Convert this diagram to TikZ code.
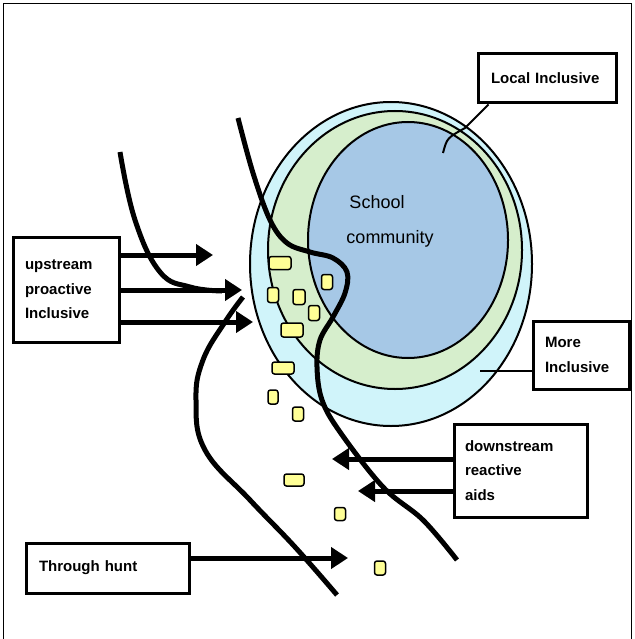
\documentclass[tikz,border=0pt]{standalone}
\usepackage{fontspec}
\setmainfont{Liberation Sans}
\usepackage{tikz}
\usetikzlibrary{positioning,arrows.meta,calc}
\definecolor{outr}{RGB}{208,244,250}
\definecolor{midr}{RGB}{214,238,204}
\definecolor{innr}{RGB}{166,200,230}
\definecolor{blb}{RGB}{255,255,150}

\begin{document}
\begin{tikzpicture}[x=1pt,y=-1pt,font=\fontsize{15}{24.5}\selectfont\bfseries,
  >={Triangle[length=17pt,width=21pt]},
  lbl/.style={draw,line width=3pt,fill=white,align=left,inner ysep=0pt},
  flow/.style={line width=5pt},
  lead/.style={line width=2pt},
  ring/.style={draw,line width=2pt},
  blob/.style={draw,line width=1.5pt,fill=blb,rounded corners=2.5pt,inner sep=0pt}]
  \useasboundingbox (0,0) rectangle (634,639);
  \draw[line width=1pt] (3,642)--(3,4)--(631,4)--(631,642);
  % the three zones round the school
  \draw[ring,fill=outr] (391,264) ellipse [x radius=141pt,y radius=162pt];
  \draw[ring,fill=midr] (395,250) ellipse [x radius=127pt,y radius=139pt];
  \draw[ring,fill=innr] (408,240) ellipse [x radius=100pt,y radius=118pt];
  \node[font=\fontsize{18}{35}\selectfont,align=left] (sc) at (390,221) {\,School\\community};
  % particles
  \foreach \bx/\by/\bw/\bh in {280/263/22/13,273/295/11/15,299/297/12/15,327/282/11/15,
    314/313/11/15,292/330/22/14,283/368/22/12,273/397/10/14,298/414/11/14,
    294/480/20/12,340/514/11/13,380/568/11/14}
    \node[blob,minimum width=\bw pt,minimum height=\bh pt] at (\bx,\by) {};
  % currents
  \draw[flow] plot[smooth,tension=0.7] coordinates {(120,152) (135,220) (160,272) (190,287) (222,291)};
  \draw[flow] plot[smooth,tension=0.6] coordinates {(238,118) (253,173) (270,220) (287,243) (310,252)
    (333,258) (347,272) (345,293) (333,317) (320,340) (317,367) (322,400) (340,432) (383,487) (423,520) (457,560)};
  \draw[flow] plot[smooth,tension=0.7] coordinates {(243,297) (225,322) (203,360) (196,400) (205,450)
    (250,500) (295,547) (337,595)};
  % labels
  \node[lbl,minimum width=106pt,minimum height=105pt,text width=82pt,inner xsep=12pt] (up) at (66,289.5)
    {upstream\\proactive\\Inclusive};
  \node[lbl,minimum width=133pt,minimum height=93pt,text width=111pt,inner xsep=11pt] (dn) at (520.5,470.5)
    {downstream\\reactive\\aids};
  \node[lbl,minimum width=163pt,minimum height=50pt,text width=137pt,inner xsep=13pt] (thr) at (107.5,568)
    {Through hunt};
  \node[lbl,minimum width=138pt,minimum height=49pt,text width=112pt,inner xsep=13pt] (loc) at (547,78.5)
    {Local Inclusive};
  \node[lbl,minimum width=96pt,minimum height=68pt,text width=72pt,inner xsep=12pt] (more) at (581,355)
    {More\\Inclusive};
  \coordinate (a1) at (213,255); \coordinate (a2) at (242,290); \coordinate (a3) at (253,322);
  \coordinate (d1) at (332,459); \coordinate (d2) at (358,491);
  \coordinate (t1) at (348,558);
  \coordinate (l1) at (443,153); \coordinate (m1) at (480,371);
  \draw[flow,->] (up.east|-a1)--(a1); \draw[flow,->] (up.east|-a2)--(a2); \draw[flow,->] (up.east|-a3)--(a3);
  \draw[flow,->] (dn.west|-d1)--(d1); \draw[flow,->] (dn.west|-d2)--(d2);
  \draw[flow,->] (thr.east|-t1)--(t1);
  \draw[lead] ([xshift=12pt]loc.south west)--(465,128) .. controls (447,138) .. (l1);
  \draw[lead] (more.west|-m1)--(m1);
\end{tikzpicture}
\end{document}
